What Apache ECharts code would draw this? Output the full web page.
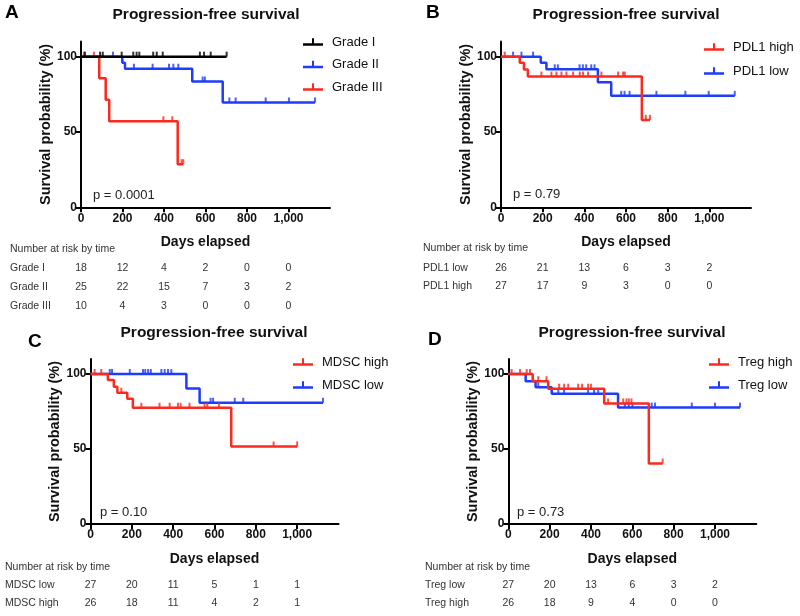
<!DOCTYPE html>
<html>
<head>
<meta charset="utf-8">
<script src="https://cdn.jsdelivr.net/npm/echarts@6.0.0/dist/echarts.min.js"></script>
<style>
html,body{margin:0;padding:0;background:#fff;}
#chart{width:800px;height:616px;}
</style>
</head>
<body>
<div id="chart"></div>
<script>
// ---------- tick labels ----------
const xTicks = [0, 200, 400, 600, 800, 1000];
const yTicks = [0, 50, 100];
const panelTitle = 'Progression-free survival';
const xName = 'Days elapsed';
const yName = 'Survival probability (%)';
const riskHeader = 'Number at risk by time';

// ---------- Panel A : Grade ----------
const gradeI_curve   = [[0,100],[702,100]];
const gradeI_censor  = [19, 92, 105, 196, 252, 268, 281, 348, 365, 394, 573, 593, 625, 702];
const gradeII_curve  = [[0,100],[199,96],[212,92],[536,83.5],[683,69.6],[1128,69.6]];
const gradeII_censor = [154, 255, 345, 424, 445, 469, 586, 597, 715, 745, 890, 1002, 1128];
const gradeIII_curve = [[0,100],[88,85.7],[119,71.4],[136,57.1],[466,28.6],[493,28.6]];
const gradeIII_censor= [14, 62, 397, 440, 485, 493];
const riskA_labels   = ['Grade I', 'Grade II', 'Grade III'];
const riskA_gradeI   = [18, 12, 4, 2, 0, 0];
const riskA_gradeII  = [25, 22, 15, 7, 3, 2];
const riskA_gradeIII = [10, 4, 3, 0, 0, 0];

// ---------- Panel B : PDL1 ----------
const pdl1High_curve  = [[0,100],[90,96],[110,91.4],[129,86.8],[676,58],[715,58]];
const pdl1High_censor = [18, 194, 242, 266, 290, 314, 346, 378, 394, 418, 482, 562, 586, 594, 695, 715];
const pdl1Low_curve   = [[0,100],[191,96],[218,91.6],[465,83],[529,74],[1122,74]];
const pdl1Low_censor  = [58, 98, 154, 258, 273, 377, 393, 409, 433, 449, 577, 593, 617, 746, 885, 997, 1122];
const riskB_labels    = ['PDL1 low', 'PDL1 high'];
const riskB_low       = [26, 21, 13, 6, 3, 2];
const riskB_high      = [27, 17, 9, 3, 0, 0];

// ---------- Panel C : MDSC ----------
const mdscHigh_curve  = [[0,100],[84,96],[113,91.5],[130,87.5],[178,83.5],[205,77.5],[681,51.7],[1000,51.7]];
const mdscHigh_censor = [20, 52, 149, 246, 334, 383, 423, 436, 479, 552, 565, 622, 886, 1000];
const mdscLow_curve   = [[0,100],[464,90.3],[528,80.8],[1125,80.8]];
const mdscLow_censor  = [93, 104, 190, 254, 265, 279, 292, 343, 359, 375, 391, 581, 593, 698, 739, 1125];
const riskC_labels    = ['MDSC low', 'MDSC high'];
const riskC_low       = [27, 20, 11, 5, 1, 1];
const riskC_high      = [26, 18, 11, 4, 2, 1];

// ---------- Panel D : Treg ----------
const tregHigh_curve  = [[0,100],[118,95.2],[193,90.2],[464,80.4],[680,40.3],[747,40.3]];
const tregHigh_censor = [16, 57, 89, 105, 145, 185, 246, 270, 290, 338, 357, 386, 400, 483, 556, 572, 583, 596, 747];
const tregLow_curve   = [[0,100],[84,95.2],[132,91.2],[210,86.8],[531,77.6],[1121,77.6]];
const tregLow_censor  = [145, 242, 270, 386, 415, 435, 564, 583, 601, 694, 710, 888, 1000, 1121];
const riskD_labels    = ['Treg low', 'Treg high'];
const riskD_low       = [27, 20, 13, 6, 3, 2];
const riskD_high      = [26, 18, 9, 4, 0, 0];

// ---------- styling ----------
const RED = '#fa2a1e', BLUE = '#1f3cf8', BLACK = '#000000';
const FONT = '"Liberation Sans", Arial, sans-serif';
const ICON = 'path://M0,5L20,5L20,7.6L0,7.6Z M9,0L11,0L11,6L9,6Z';

const grids = [
  {left: 81,    top: 41.6, width: 249, height: 165.7},
  {left: 501,   top: 41.6, width: 250, height: 165.7},
  {left: 90.5,  top: 359,  width: 248, height: 165},
  {left: 508.3, top: 359,  width: 248, height: 165}
];

function stepValue(curve, t) {
  let v = curve[0][1];
  for (const p of curve) { if (p[0] <= t) v = p[1]; }
  return v;
}

const xAxes = grids.map((g, i) => ({
  type: 'value', gridIndex: i, min: 0, max: 1200,
  name: xName, nameLocation: 'middle', nameGap: 28,
  nameTextStyle: {fontFamily: FONT, fontWeight: 'bold', fontSize: 14, color: '#111'},
  axisLine: {show: true, onZero: false, lineStyle: {color: BLACK, width: 2}},
  axisTick: {show: true, length: 5, lineStyle: {color: BLACK, width: 2}, customValues: xTicks},
  axisLabel: {fontFamily: FONT, fontWeight: 'bold', fontSize: 12, color: '#111', margin: 5, customValues: xTicks},
  splitLine: {show: false}
}));
const yAxes = grids.map((g, i) => ({
  type: 'value', gridIndex: i, min: 0, max: 110,
  name: yName, nameLocation: 'middle', nameGap: 27, nameRotate: 90,
  nameTextStyle: {fontFamily: FONT, fontWeight: 'bold', fontSize: 14.5, color: '#111'},
  axisLine: {show: true, onZero: false, lineStyle: {color: BLACK, width: 2}},
  axisTick: {show: true, length: 5, lineStyle: {color: BLACK, width: 2}, customValues: yTicks},
  axisLabel: {fontFamily: FONT, fontWeight: 'bold', fontSize: 12, color: '#111', margin: 4, customValues: yTicks},
  splitLine: {show: false}
}));

const curves = [
  {name: 'Grade III', panel: 0, color: RED,   curve: gradeIII_curve, censor: gradeIII_censor, z: 2},
  {name: 'Grade II',  panel: 0, color: BLUE,  curve: gradeII_curve,  censor: gradeII_censor,  z: 3},
  {name: 'Grade I',   panel: 0, color: BLACK, curve: gradeI_curve,   censor: gradeI_censor,   z: 4},
  {name: 'PDL1 low',  panel: 1, color: BLUE,  curve: pdl1Low_curve,  censor: pdl1Low_censor,  z: 2},
  {name: 'PDL1 high', panel: 1, color: RED,   curve: pdl1High_curve, censor: pdl1High_censor, z: 3},
  {name: 'MDSC low',  panel: 2, color: BLUE,  curve: mdscLow_curve,  censor: mdscLow_censor,  z: 2},
  {name: 'MDSC high', panel: 2, color: RED,   curve: mdscHigh_curve, censor: mdscHigh_censor, z: 3},
  {name: 'Treg low',  panel: 3, color: BLUE,  curve: tregLow_curve,  censor: tregLow_censor,  z: 2},
  {name: 'Treg high', panel: 3, color: RED,   curve: tregHigh_curve, censor: tregHigh_censor, z: 3}
];

const series = [];
curves.forEach(c => {
  series.push({
    type: 'line', name: c.name, xAxisIndex: c.panel, yAxisIndex: c.panel,
    step: 'end', data: c.curve, symbol: 'none', z: c.z,
    lineStyle: {color: c.color, width: 2.5}, itemStyle: {color: c.color},
    silent: true, animation: false
  });
  series.push({
    type: 'scatter', name: c.name, xAxisIndex: c.panel, yAxisIndex: c.panel,
    data: c.censor.map(t => [t, stepValue(c.curve, t)]),
    symbol: 'rect', symbolSize: [2, 5], symbolOffset: [0, -2.5], z: c.z,
    itemStyle: {color: c.color}, silent: true, animation: false
  });
});

function legendAt(names, left, top, gap) {
  return {
    data: names.map(n => ({name: n, icon: ICON})), orient: 'vertical', left: left, top: top,
    padding: 0, itemWidth: 20, itemHeight: 8, itemGap: gap, selectedMode: false,
    textStyle: {fontFamily: FONT, fontSize: 13, color: '#111', lineHeight: 16, padding: [0, 0, 0, 4]}
  };
}
const legends = [
  legendAt(['Grade I', 'Grade II', 'Grade III'], 303, 34, 6.5),
  legendAt(['PDL1 high', 'PDL1 low'], 704, 39, 8),
  legendAt(['MDSC high', 'MDSC low'], 293, 354, 7),
  legendAt(['Treg high', 'Treg low'], 709, 354, 7)
];

function txt(x, y, s, opts) {
  return Object.assign({type: 'text', x: x, y: y, silent: true,
    style: Object.assign({text: s, fontFamily: FONT, fontSize: 13, fill: '#111', textAlign: 'left', textVerticalAlign: 'middle'}, opts || {})});
}
const graphics = [
  txt(5, 13, 'A', {fontSize: 19, fontWeight: 'bold', fill: '#000'}),
  txt(426, 13, 'B', {fontSize: 19, fontWeight: 'bold', fill: '#000'}),
  txt(28, 342, 'C', {fontSize: 19, fontWeight: 'bold', fill: '#000'}),
  txt(428, 340, 'D', {fontSize: 19, fontWeight: 'bold', fill: '#000'}),
  txt(206, 15, panelTitle, {fontSize: 15.5, fontWeight: 'bold', textAlign: 'center'}),
  txt(626, 15, panelTitle, {fontSize: 15.5, fontWeight: 'bold', textAlign: 'center'}),
  txt(214, 333, panelTitle, {fontSize: 15.5, fontWeight: 'bold', textAlign: 'center'}),
  txt(632, 333, panelTitle, {fontSize: 15.5, fontWeight: 'bold', textAlign: 'center'}),
  txt(93, 195, 'p = 0.0001', {fill: '#222'}),
  txt(513, 194, 'p = 0.79', {fill: '#222'}),
  txt(100, 512, 'p = 0.10', {fill: '#222'}),
  txt(517, 512, 'p = 0.73', {fill: '#222'})
];

const chart = echarts.init(document.getElementById('chart'), null, {renderer: 'canvas'});
chart.setOption({
  backgroundColor: '#ffffff',
  animation: false,
  grid: grids,
  xAxis: xAxes,
  yAxis: yAxes,
  legend: legends,
  series: series,
  graphic: graphics
});

// number-at-risk tables, columns aligned with the x-axis ticks
const tables = [
  {panel: 0, labelX: 10,  headerY: 249, rowY: [268, 287, 306], labels: riskA_labels, rows: [riskA_gradeI, riskA_gradeII, riskA_gradeIII]},
  {panel: 1, labelX: 423, headerY: 248, rowY: [268, 286],      labels: riskB_labels, rows: [riskB_low, riskB_high]},
  {panel: 2, labelX: 5,   headerY: 567, rowY: [585, 603],      labels: riskC_labels, rows: [riskC_low, riskC_high]},
  {panel: 3, labelX: 425, headerY: 567, rowY: [585, 603],      labels: riskD_labels, rows: [riskD_low, riskD_high]}
];
const tableGraphics = [];
const tStyle = {fontSize: 10.5, fill: '#333'};
tables.forEach(tb => {
  tableGraphics.push(txt(tb.labelX, tb.headerY, riskHeader, tStyle));
  tb.rows.forEach((row, r) => {
    tableGraphics.push(txt(tb.labelX, tb.rowY[r], tb.labels[r], tStyle));
    row.forEach((v, k) => {
      const px = chart.convertToPixel({xAxisIndex: tb.panel}, xTicks[k]);
      tableGraphics.push(txt(px, tb.rowY[r], String(v), Object.assign({textAlign: 'center'}, tStyle)));
    });
  });
});
chart.setOption({graphic: graphics.concat(tableGraphics)});
</script>
</body>
</html>
